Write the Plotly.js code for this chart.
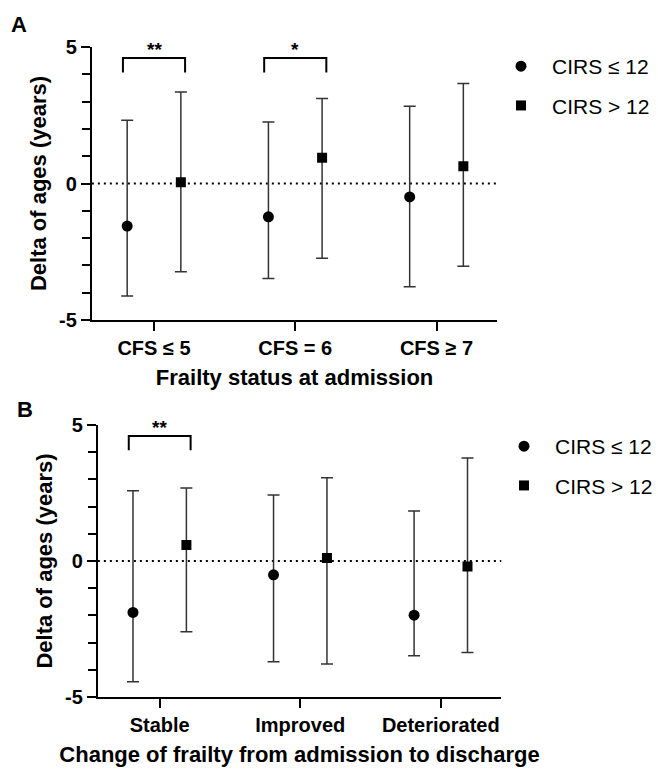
<!DOCTYPE html>
<html><head><meta charset="utf-8">
<script src="https://cdn.plot.ly/plotly-3.0.1.min.js"></script>
<style>html,body{margin:0;padding:0;background:#fff}</style>
</head><body><div id="chart" style="width:658px;height:770px"></div>
<script>
// ---- data ----
const catsA = ['CFS ≤ 5', 'CFS = 6', 'CFS ≥ 7'];
const catsB = ['Stable', 'Improved', 'Deteriorated'];
const seriesNames = ['CIRS ≤ 12', 'CIRS > 12'];

const lowMeanA = [-1.56, -1.22, -0.49];
const lowUpA   = [2.32, 2.25, 2.83];
const lowDownA = [-4.12, -3.48, -3.78];
const highMeanA = [0.05, 0.94, 0.63];
const highUpA   = [3.35, 3.11, 3.66];
const highDownA = [-3.23, -2.74, -3.03];

const lowMeanB = [-1.89, -0.51, -1.99];
const lowUpB   = [2.58, 2.43, 1.84];
const lowDownB = [-4.44, -3.70, -3.48];
const highMeanB = [0.59, 0.11, -0.20];
const highUpB   = [2.68, 3.06, 3.79];
const highDownB = [-2.60, -3.79, -3.36];

const sigCatsA = [0, 1];
const sigLabelsA = ['**', '*'];
const sigCatsB = [0];
const sigLabelsB = ['**'];

// ---- styling ----
const FONT = 'Arial, "Liberation Sans", sans-serif';
const OFF = 0.19;
const BR_HALF = 0.22;
const BR_TOP = 4.6, BR_LEG = 4.07;

function series(means, ups, downs, offset, name, symbol, size, xa, ya, leg, grp) {
  return {
    type: 'scatter', mode: 'markers', name: name,
    x: means.map((_, i) => i + offset), y: means,
    xaxis: xa, yaxis: ya, legend: leg, legendgroup: grp,
    marker: {symbol: symbol, size: size, color: '#000'},
    error_y: {type: 'data', symmetric: false,
      array: ups.map((u, i) => u - means[i]),
      arrayminus: downs.map((d, i) => means[i] - d),
      color: '#333', thickness: 1.5, width: 6},
    hoverinfo: 'x+y'
  };
}

const data = [
  series(lowMeanA, lowUpA, lowDownA, -OFF, seriesNames[0], 'circle', 11, 'x', 'y', 'legend', 'a0'),
  series(highMeanA, highUpA, highDownA, OFF, seriesNames[1], 'square', 10, 'x', 'y', 'legend', 'a1'),
  series(lowMeanB, lowUpB, lowDownB, -OFF, seriesNames[0], 'circle', 11, 'x2', 'y2', 'legend2', 'b0'),
  series(highMeanB, highUpB, highDownB, OFF, seriesNames[1], 'square', 10, 'x2', 'y2', 'legend2', 'b1')
];

function xaxisDef(cats, domain, title, yref) {
  return {
    domain: domain, anchor: yref, range: [-0.44, 2.43],
    tickvals: cats.map((_, i) => i), ticktext: cats,
    ticks: 'outside', ticklen: 9, tickwidth: 2, tickcolor: '#000',
    showline: true, linecolor: '#000', linewidth: 2, showgrid: false, zeroline: false,
    tickfont: {family: FONT, size: 20, color: '#000', weight: 'bold'},
    title: {text: title, font: {family: FONT, size: 22, color: '#000', weight: 'bold'}, standoff: 12},
    fixedrange: true
  };
}
function yaxisDef(domain, xref) {
  return {
    domain: domain, anchor: xref, range: [-5, 5],
    tickvals: [-5, 0, 5], ticktext: ['-5', '0', '5'],
    ticks: 'outside', ticklen: 9, tickwidth: 2, tickcolor: '#000',
    minor: {dtick: 1, tick0: 0, ticks: 'outside', ticklen: 8, tickwidth: 2, tickcolor: '#000'},
    showline: true, linecolor: '#000', linewidth: 2, showgrid: false, zeroline: false,
    tickfont: {family: FONT, size: 20, color: '#000', weight: 'bold'},
    title: {text: 'Delta of ages (years)', font: {family: FONT, size: 22, color: '#000', weight: 'bold'}, standoff: 6},
    fixedrange: true
  };
}

const shapes = [];
const annotations = [];
function addPanelDecor(xr, yr, cats, labels) {
  shapes.push({type: 'line', xref: xr + ' domain', yref: yr, x0: 0, x1: 1, y0: 0, y1: 0,
    line: {color: '#000', width: 2, dash: '2px,4px'}, layer: 'below'});
  cats.forEach((c, k) => {
    const x0 = c - BR_HALF, x1 = c + BR_HALF;
    shapes.push({type: 'path', xref: xr, yref: yr,
      path: `M ${x0},${BR_LEG} L ${x0},${BR_TOP} L ${x1},${BR_TOP} L ${x1},${BR_LEG}`,
      line: {color: '#000', width: 2}});
    annotations.push({xref: xr, yref: yr, x: c, y: BR_TOP, yanchor: 'bottom', yshift: -4,
      text: labels[k], showarrow: false, font: {family: FONT, size: 19, color: '#000', weight: 'bold'}});
  });
}
addPanelDecor('x', 'y', sigCatsA, sigLabelsA);
addPanelDecor('x2', 'y2', sigCatsB, sigLabelsB);

annotations.push({xref: 'paper', yref: 'paper', x: 9 / 658, y: 1 - 25 / 770, xanchor: 'left', yanchor: 'middle',
  text: 'A', showarrow: false, font: {family: FONT, size: 22, color: '#000', weight: 'bold'}});
annotations.push({xref: 'paper', yref: 'paper', x: 15 / 658, y: 1 - 410 / 770, xanchor: 'left', yanchor: 'middle',
  text: 'B', showarrow: false, font: {family: FONT, size: 22, color: '#000', weight: 'bold'}});

function legendDef(yTopPx, xLeftPx) {
  return {x: xLeftPx / 658, y: 1 - yTopPx / 770, xanchor: 'left', yanchor: 'top',
    font: {family: FONT, size: 21, color: '#000'}, traceorder: 'grouped', tracegroupgap: 9,
    itemwidth: 52, bgcolor: 'rgba(0,0,0,0)', borderwidth: 0};
}

const layout = {
  width: 658, height: 770,
  margin: {l: 0, r: 0, t: 0, b: 0},
  paper_bgcolor: '#fff', plot_bgcolor: '#fff',
  font: {family: FONT, color: '#000'},
  xaxis: xaxisDef(catsA, [92 / 658, 498 / 658], 'Frailty status at admission', 'y'),
  yaxis: yaxisDef([1 - 320 / 770, 1 - 47 / 770], 'x'),
  xaxis2: xaxisDef(catsB, [98 / 658, 502 / 658], 'Change of frailty from admission to discharge', 'y2'),
  yaxis2: yaxisDef([1 - 697 / 770, 1 - 425 / 770], 'x2'),
  legend: legendDef(46, 490),
  legend2: legendDef(426, 494),
  shapes: shapes,
  annotations: annotations,
  showlegend: true
};

Plotly.newPlot('chart', data, layout, {displayModeBar: false, staticPlot: true});
</script>
</body></html>
